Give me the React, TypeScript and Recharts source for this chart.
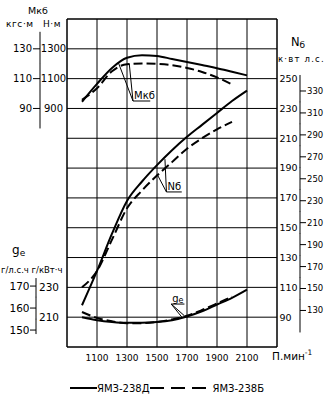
import React from "react"
import {
  ComposedChart,
  Line,
  XAxis,
  YAxis,
  CartesianGrid,
  ReferenceArea,
  ReferenceLine,
  Legend,
} from "recharts"

const FONT = "'DejaVu Sans', 'Noto Sans', sans-serif"
const INK = "#000"

// частота вращения, мин-1
const rpm = [1000, 1100, 1200, 1300, 1400, 1500, 1600, 1700, 1800, 1900, 2000, 2100]

// ЯМЗ-238Д (сплошные)
const torqueD = [945, 1065, 1172, 1240, 1257, 1252, 1232, 1212, 1191, 1170, 1146, 1122] // Н·м
const powerD = [98, 121, 146, 168, 181, 192, 202, 211, 219, 227, 235, 242] // кВт
const fuelD = [210, 208, 206.8, 206.2, 206.2, 206.7, 208, 210.5, 214, 218.5, 223, 228.5] // г/кВт·ч

// ЯМЗ-238Б (штриховые), кончаются на 2000
const torqueB = [958, 1035, 1150, 1197, 1202, 1199, 1190, 1172, 1145, 1108, 1062]
const powerB = [110, 121, 142, 163, 175, 185, 194, 203, 210, 216, 221]
const fuelB = [213.5, 209.5, 207.2, 206, 206, 206.8, 208.5, 211, 214.8, 219.2, 223.8]

const seriesD = "ЯМЗ-238Д"
const seriesB = "ЯМЗ-238Б"

// шкалы
const rpmTicks = [900, 1100, 1300, 1500, 1700, 1900, 2100, 2300]
const rpmLabels = [1100, 1300, 1500, 1700, 1900, 2100]
const torqueNmTicks = [1300, 1100, 900]
const torqueKgfTicks = [130, 110, 90]
const powerGrid = [70, 90, 110, 130, 150, 170, 190, 210, 230, 250, 270, 290]
const powerKwTicks = [250, 230, 210, 190, 170, 150, 130, 110, 90]
const powerHpTicks = [330, 310, 290, 270, 250, 230, 210, 190, 170, 150, 130]
const fuelKwhTicks = [230, 210]
const fuelHphTicks = [170, 160, 150]

const data = rpm.map((n, i) => ({
  rpm: n,
  torqueD: torqueD[i],
  torqueB: torqueB[i] ?? null,
  powerD: powerD[i],
  powerB: powerB[i] ?? null,
  fuelD: fuelD[i],
  fuelB: fuelB[i] ?? null,
}))

// рамка графика на странице
const PL = 67
const PR = 277
const PT = 19
const PB = 347

const txt = { fontFamily: FONT, fill: INK }

// кусок вертикальной линии шкалы возле деления
function axisPiece(ticks: number[], v: number, x: number, y: number, half: number, top: number, bottom: number) {
  const y1 = v === Math.max(...ticks) ? y - top : y - half
  const y2 = v === Math.min(...ticks) ? y + bottom : y + half
  return <line x1={x} x2={x} y1={y1} y2={y2} stroke={INK} strokeWidth={1} />
}

function RpmTick({ x, payload }: any) {
  const v = payload.value
  if (v === rpmTicks[rpmTicks.length - 1]) {
    return (
      <text x={x - 5} y={PB + 13} fontSize={10.5} {...txt}>
        П.мин<tspan dy={-5} fontSize={7.5}>-1</tspan>
      </text>
    )
  }
  if (!rpmLabels.includes(v)) return <g />
  return (
    <text x={x} y={PB + 11} dy="0.35em" textAnchor="middle" fontSize={9} {...txt}>
      {v}
    </text>
  )
}

function NmTick({ y, payload }: any) {
  return (
    <text x={PL - 13.5} y={y} dy="0.35em" textAnchor="middle" fontSize={10} {...txt}>
      {payload.value}
    </text>
  )
}

function KgfTick({ y, payload }: any) {
  const ax = PL - 27
  return (
    <g>
      {axisPiece(torqueKgfTicks, payload.value, ax, y, 15, 17, 20)}
      <line x1={ax - 7} x2={ax} y1={y} y2={y} stroke={INK} />
      <text x={ax - 8} y={y} dy="0.35em" textAnchor="end" fontSize={10} {...txt}>
        {payload.value}
      </text>
    </g>
  )
}

function KwTick({ y, payload }: any) {
  if (!powerKwTicks.includes(payload.value)) return <g />
  return (
    <text x={PR + 2.5} y={y} dy="0.35em" textAnchor="start" fontSize={9.5} {...txt}>
      {payload.value}
    </text>
  )
}

function HpTick({ y, payload }: any) {
  const ax = PR + 23
  return (
    <g>
      {axisPiece(powerHpTicks, payload.value, ax, y, 11.2, 16, 22)}
      <line x1={ax} x2={ax + 6} y1={y} y2={y} stroke={INK} />
      <text x={ax + 7} y={y} dy="0.35em" textAnchor="start" fontSize={8.5} {...txt}>
        {payload.value}
      </text>
    </g>
  )
}

function GKwhTick({ y, payload }: any) {
  return (
    <text x={PL - 28} y={y} dy="0.35em" textAnchor="start" fontSize={10.5} {...txt}>
      {payload.value}
    </text>
  )
}

function GHphTick({ y, payload }: any) {
  const ax = PL - 31
  return (
    <g>
      {axisPiece(fuelHphTicks, payload.value, ax, y, 11.2, 8, 4)}
      <line x1={ax - 6} x2={ax} y1={y} y2={y} stroke={INK} />
      <text x={ax - 6.5} y={y} dy="0.35em" textAnchor="end" fontSize={10.5} {...txt}>
        {payload.value}
      </text>
    </g>
  )
}

function TorqueTitle() {
  return (
    <g>
      <text x={PL - 39} y={PT - 5} fontSize={9.5} {...txt}>Мкб</text>
      <text x={PL - 61} y={PT + 8} fontSize={9} letterSpacing={0.6} {...txt}>кгс·м</text>
      <text x={PL - 24} y={PT + 8} fontSize={9} letterSpacing={0.6} {...txt}>Н·м</text>
    </g>
  )
}

function PowerTitle() {
  return (
    <g>
      <text x={PR + 14} y={PT + 27} fontSize={11.5} {...txt}>
        N<tspan fontSize={9} dy={2}>б</tspan>
      </text>
      <text x={PR + 1} y={PT + 42.5} fontSize={8.5} letterSpacing={1.2} {...txt}>к·вт л.с.</text>
    </g>
  )
}

function FuelTitle() {
  return (
    <g>
      <text x={PL - 55} y={PT + 235} fontSize={12} {...txt}>
        g<tspan fontSize={9} dy={2}>e</tspan>
      </text>
      <text x={PL - 66} y={PT + 254} fontSize={8.5} {...txt}>г/л.с.ч г/кВт·ч</text>
    </g>
  )
}

// подпись над выноской
const callout = (main: string, sub?: string) => (props: any) => {
  const { x = 0, y = 0 } = props.viewBox || {}
  return (
    <text x={x + 1} y={y - 2} fontSize={10} {...txt}>
      {main}
      {sub ? <tspan fontSize={8} dy={1}>{sub}</tspan> : null}
    </text>
  )
}

function LegendRow({ payload }: any) {
  const items = [seriesD, seriesB].filter((s) => (payload || []).some((e: any) => e.value === s))
  return (
    <div style={{ display: "flex", alignItems: "center", paddingLeft: 70, height: 16, fontFamily: FONT, fontSize: 10, color: INK }}>
      {items.map((name) => {
        const dashed = name === seriesB
        const w = dashed ? 56 : 27
        return (
          <span key={name} style={{ display: "flex", alignItems: "center" }}>
            <svg width={w} height={4} style={{ display: "block" }}>
              <line x1={0} x2={w} y1={2} y2={2} stroke={INK} strokeWidth={2} strokeDasharray={dashed ? "14 7" : undefined} />
            </svg>
            <span style={{ marginLeft: dashed ? 7 : 0, whiteSpace: "nowrap" }}>{name}</span>
          </span>
        )
      })}
    </div>
  )
}

const line = { type: "monotone" as const, stroke: INK, strokeWidth: 2, dot: false, isAnimationActive: false }
const dash = "9 4"
const axisBase = {
  type: "number" as const,
  interval: 0,
  axisLine: false,
  tickLine: false,
  tickSize: 0,
  tickMargin: 0,
  allowDataOverflow: true,
}

export default function App() {
  return (
    <div style={{ position: "absolute", left: 0, top: 0, background: "#fff" }}>
      <ComposedChart width={330} height={401} data={data} margin={{ top: PT, right: 51, bottom: 53, left: 63 }}>
        <CartesianGrid stroke={INK} strokeWidth={1} />
        <XAxis dataKey="rpm" domain={[900, 2300]} ticks={rpmTicks} height={1} tick={RpmTick} {...axisBase} />
        {/* мощность, кВт — по ней сетка */}
        <YAxis orientation="right" width={1} domain={[70, 290]} ticks={powerGrid} tick={KwTick} label={PowerTitle} {...axisBase} />
        <YAxis yAxisId="hp" orientation="right" width={1} domain={[96.7, 395.6]} ticks={powerHpTicks} tick={HpTick} {...axisBase} />
        <YAxis yAxisId="nm" orientation="left" width={1} domain={[-700, 1500]} ticks={torqueNmTicks} tick={NmTick} label={TorqueTitle} {...axisBase} />
        <YAxis yAxisId="kgf" orientation="left" width={1} domain={[-70, 150]} ticks={torqueKgfTicks} tick={KgfTick} {...axisBase} />
        <YAxis yAxisId="g" orientation="left" width={1} domain={[190, 410]} ticks={fuelKwhTicks} tick={GKwhTick} label={FuelTitle} {...axisBase} />
        <YAxis yAxisId="gh" orientation="left" width={1} domain={[142.3, 291.4]} ticks={fuelHphTicks} tick={GHphTick} {...axisBase} />
        <ReferenceArea x1={900} x2={2300} y1={70} y2={290} fill="none" fillOpacity={0} stroke={INK} strokeWidth={1} ifOverflow="visible" />

        <Line yAxisId="nm" dataKey="torqueD" name={seriesD} {...line} />
        <Line yAxisId="nm" dataKey="torqueB" name={seriesB} strokeDasharray={dash} {...line} />
        <Line dataKey="powerD" legendType="none" {...line} />
        <Line dataKey="powerB" legendType="none" strokeDasharray={dash} {...line} />
        <Line yAxisId="g" dataKey="fuelD" legendType="none" {...line} />
        <Line yAxisId="g" dataKey="fuelB" legendType="none" strokeDasharray={dash} {...line} />

        {/* выноски */}
        <ReferenceLine yAxisId="nm" segment={[{ x: 1340, y: 950 }, { x: 1455, y: 950 }]} stroke={INK} label={callout("Мкб")} />
        <ReferenceLine yAxisId="nm" segment={[{ x: 1340, y: 950 }, { x: 1242, y: 1208 }]} stroke={INK} />
        <ReferenceLine yAxisId="nm" segment={[{ x: 1340, y: 950 }, { x: 1315, y: 1200 }]} stroke={INK} />
        <ReferenceLine segment={[{ x: 1563, y: 174 }, { x: 1665, y: 174 }]} stroke={INK} label={callout("Nб")} />
        <ReferenceLine segment={[{ x: 1563, y: 174 }, { x: 1500, y: 186 }]} stroke={INK} />
        <ReferenceLine segment={[{ x: 1563, y: 174 }, { x: 1553, y: 196 }]} stroke={INK} />
        <ReferenceLine yAxisId="g" segment={[{ x: 1595, y: 218.8 }, { x: 1683, y: 218.8 }]} stroke={INK} label={callout("g", "e")} />
        <ReferenceLine yAxisId="g" segment={[{ x: 1595, y: 218.8 }, { x: 1665, y: 210.1 }]} stroke={INK} />
        <ReferenceLine yAxisId="g" segment={[{ x: 1595, y: 218.8 }, { x: 1680, y: 211.2 }]} stroke={INK} />

        <Legend verticalAlign="middle" layout="horizontal" content={LegendRow} wrapperStyle={{ left: 0, top: 380, width: 330 }} />
      </ComposedChart>
    </div>
  )
}
